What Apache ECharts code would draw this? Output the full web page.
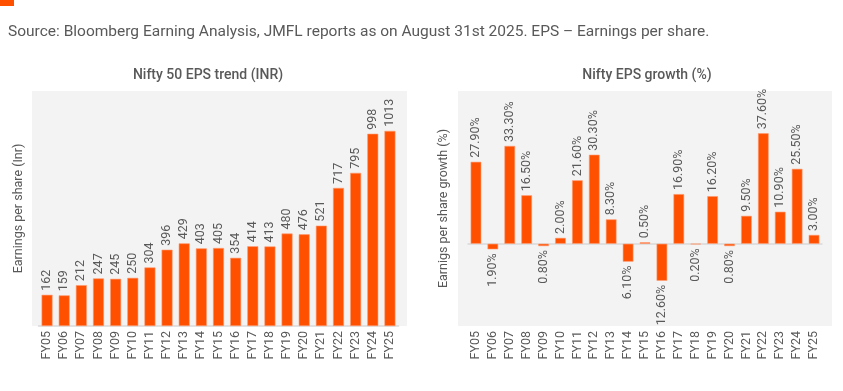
<!DOCTYPE html>
<html><head><meta charset="utf-8">
<script src="https://cdn.jsdelivr.net/npm/echarts@6/dist/echarts.min.js"></script>
<style>html,body{margin:0;padding:0;background:#fff}#c{width:843px;height:391px}</style>
</head><body><div id="c"></div>
<script>
const categories = ['FY05','FY06','FY07','FY08','FY09','FY10','FY11','FY12','FY13','FY14','FY15','FY16','FY17','FY18','FY19','FY20','FY21','FY22','FY23','FY24','FY25'];
const epsValues = [162,159,212,247,245,250,304,396,429,403,405,354,414,413,480,476,521,717,795,998,1013];
const growthValues = [27.9,-1.9,33.3,16.5,-0.8,2.0,21.6,30.3,8.3,-6.1,0.5,-12.6,16.9,-0.2,16.2,-0.8,9.5,37.6,10.9,25.5,3.0];
const sourceText = 'Source: Bloomberg Earning Analysis, JMFL reports as on August 31st 2025. EPS \u2013 Earnings per share.';
const leftTitle = 'Nifty 50 EPS trend (INR)';
const rightTitle = 'Nifty EPS growth (%)';
const leftYName = 'Earnings per share (Inr)';
const rightYName = 'Earnigs per share growth (%)';

const FONT = 'Roboto';
const GRAY = '#595959';
const BAR = '#FF5000';
const chart = echarts.init(document.getElementById('c'));

function xAxis(gi, showLine){
  return {type:'category', gridIndex:gi, data:categories,
    axisLine:{show:showLine, onZero:false, lineStyle:{color:'#d9d9d9', width:1.5}},
    axisTick:{show:false},
    axisLabel:{rotate:90, color:GRAY, fontFamily:FONT, fontSize:12.5, margin:5, interval:0}};
}
const barLabel = {show:true, position:'top', rotate:90, align:'left', verticalAlign:'middle', distance:4, color:GRAY, fontSize:12.5, fontFamily:FONT};
const growthData = growthValues.map(v => v < 0 ? {value:v, label:{position:'bottom', align:'right', rotate:90}} : v);

chart.setOption({
  animation:false,
  textStyle:{fontFamily:FONT},
  title:[
    {text:sourceText, left:3, top:19, textStyle:{color:GRAY, fontSize:15.5, fontWeight:'normal', fontFamily:FONT}},
    {text:leftTitle, left:203, top:63, textAlign:'center', textStyle:{color:GRAY, fontSize:14, fontWeight:500, fontFamily:FONT}},
    {text:rightTitle, left:642, top:63, textAlign:'center', textStyle:{color:GRAY, fontSize:14, fontWeight:500, fontFamily:FONT}}
  ],
  graphic:[
    {type:'rect', shape:{x:0,y:0,width:14,height:6}, style:{fill:BAR}, z:-1},
    {type:'rect', shape:{x:32,y:91,width:375,height:235}, style:{fill:'#f3f3f3'}, z:-10},
    {type:'rect', shape:{x:458,y:91,width:374,height:235}, style:{fill:'#f3f3f3'}, z:-10}
  ],
  grid:[
    {left:38.5, width:360, top:91, height:235, outerBoundsMode:'none', containLabel:false},
    {left:467.5, width:355, top:91, height:235, outerBoundsMode:'none', containLabel:false}
  ],
  xAxis:[xAxis(0, true), xAxis(1, false)],
  yAxis:[
    {type:'value', gridIndex:0, min:0, max:1220, splitLine:{show:false}, axisLabel:{show:false}, axisLine:{show:false}, axisTick:{show:false},
     name:leftYName, nameLocation:'middle', nameGap:13, nameRotate:90, nameTextStyle:{color:GRAY, fontSize:12.5, fontFamily:FONT}},
    {type:'value', gridIndex:1, min:-28, max:52, splitLine:{show:false}, axisLabel:{show:false}, axisLine:{show:false}, axisTick:{show:false},
     name:rightYName, nameLocation:'middle', nameGap:17, nameRotate:90, nameTextStyle:{color:GRAY, fontSize:12.5, fontFamily:FONT}}
  ],
  series:[
    {type:'bar', xAxisIndex:0, yAxisIndex:0, data:epsValues, barWidth:'64%',
     itemStyle:{color:BAR, borderColor:'#ff9a70', borderWidth:0.6},
     label:barLabel},
    {type:'bar', xAxisIndex:1, yAxisIndex:1, data:growthData, barWidth:'63%',
     itemStyle:{color:BAR, borderColor:'#ff9a70', borderWidth:0.6},
     label:Object.assign({}, barLabel, {formatter:p=>Math.abs(p.value).toFixed(2)+'%'}),
     markLine:{silent:true, symbol:['none','none'], label:{show:false}, lineStyle:{color:'#d9d9d9', type:'solid', width:1.5},
       data:[{yAxis:0}], z:1}}
  ]
});
</script></body></html>
